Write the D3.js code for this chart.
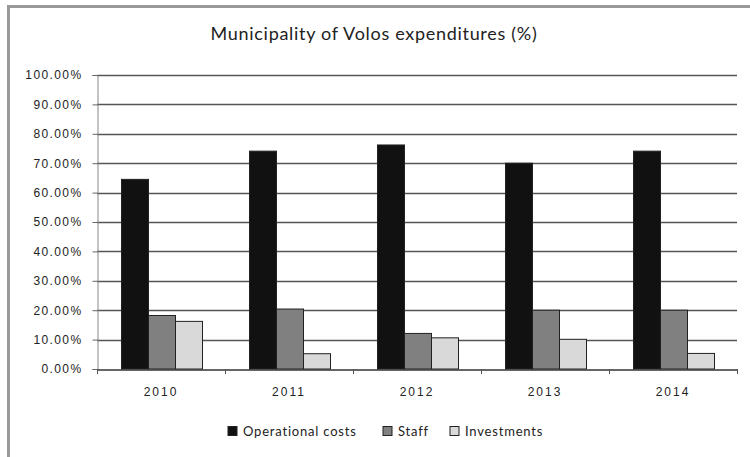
<!DOCTYPE html>
<html>
<head>
<meta charset="utf-8">
<script src="https://cdn.jsdelivr.net/npm/d3@7"></script>
<style>
  html, body { margin: 0; padding: 0; background: #fff; }
  svg { display: block; font-family: Lato, "Open Sans", sans-serif; }
</style>
</head>
<body>
<svg id="chart" width="750" height="457"></svg>
<script>
// Expenditure shares per year, as fractions of the total
const years = ["2010", "2011", "2012", "2013", "2014"];
const seriesNames = ["Operational costs", "Staff", "Investments"];
const operationalCosts = [0.645, 0.741, 0.762, 0.700, 0.741];
const staff = [0.182, 0.204, 0.121, 0.200, 0.200];
const investments = [0.162, 0.052, 0.106, 0.101, 0.053];
const yTicks = [0, 0.1, 0.2, 0.3, 0.4, 0.5, 0.6, 0.7, 0.8, 0.9, 1.0];
const seriesColors = ["#111111", "#808080", "#d9d9d9"];

const seriesValues = [operationalCosts, staff, investments];

const svg = d3.select("#chart");
const W = 750, H = 457;

svg.append("rect").attr("width", W).attr("height", H).attr("fill", "#fff");

// Outer chart frame (top and left edges)
svg.append("line").attr("x1", 7).attr("x2", W).attr("y1", 6.5).attr("y2", 6.5)
  .attr("stroke", "#999").attr("stroke-width", 3);
svg.append("line").attr("x1", 8.5).attr("x2", 8.5).attr("y1", 5).attr("y2", H)
  .attr("stroke", "#999").attr("stroke-width", 3);

const plot = { left: 97, right: 737, top: 75, bottom: 369 };

const x0 = d3.scaleBand().domain(years).range([plot.left, plot.right]).padding(0);
const x1 = d3.scaleBand().domain(seriesNames).range([24, 105]).padding(0);
const y = d3.scaleLinear().domain([0, 1]).range([plot.bottom, plot.top]);

// Horizontal gridlines
svg.append("g").selectAll("line").data(yTicks.filter(d => d > 0)).join("line")
  .attr("x1", plot.left).attr("x2", plot.right)
  .attr("y1", d => Math.round(y(d)) + 0.5).attr("y2", d => Math.round(y(d)) + 0.5)
  .attr("stroke", "#555").attr("stroke-width", 1.3);

// Y axis
const yAxis = d3.axisLeft(y).tickValues(yTicks).tickFormat(d3.format(".2%")).tickSize(5).tickPadding(10);
const gy = svg.append("g").attr("transform", `translate(${plot.left + 0.5},0)`).call(yAxis);
gy.select(".domain").attr("stroke", "#888");
gy.selectAll(".tick line").attr("stroke", "#666");
gy.selectAll("text").attr("font-size", 12).attr("letter-spacing", 1.4).attr("fill", "#222");

// Bars
const groups = svg.append("g").selectAll("g").data(years).join("g")
  .attr("transform", d => `translate(${x0(d)},0)`);
groups.selectAll("rect")
  .data((yr, i) => seriesNames.map((s, k) => ({ s, k, v: seriesValues[k][i] })))
  .join("rect")
  .attr("x", d => x1(d.s) + 0.5)
  .attr("width", x1.bandwidth())
  .attr("y", d => y(d.v))
  .attr("height", d => plot.bottom - y(d.v))
  .attr("fill", d => seriesColors[d.k])
  .attr("stroke", "#222").attr("stroke-width", 1);

// X axis baseline and category ticks
const xAxis = d3.axisBottom(x0).tickSize(0).tickPadding(18);
const gx = svg.append("g").attr("transform", `translate(0,${plot.bottom + 0.5})`).call(xAxis);
gx.select(".domain").attr("stroke", "#333").attr("stroke-width", 1.5);
gx.selectAll("text").attr("font-size", 12).attr("letter-spacing", 2).attr("fill", "#222");
svg.append("g").selectAll("line")
  .data(years.map(d => x0(d)).concat([plot.right]))
  .join("line")
  .attr("x1", d => d + 0.5).attr("x2", d => d + 0.5)
  .attr("y1", plot.bottom).attr("y2", plot.bottom + 5)
  .attr("stroke", "#555");

// Title
svg.append("text").attr("x", 374).attr("y", 40).attr("text-anchor", "middle")
  .attr("font-size", 18).attr("letter-spacing", 0.7).attr("fill", "#222")
  .text("Municipality of Volos expenditures (%)");

// Legend
const legendX = [228, 383, 450];
const legend = svg.append("g").selectAll("g").data(seriesNames).join("g")
  .attr("transform", (d, i) => `translate(${legendX[i]},431)`);
legend.append("rect").attr("x", 0).attr("y", -4.5).attr("width", 9).attr("height", 9)
  .attr("fill", (d, i) => seriesColors[i]).attr("stroke", "#222");
legend.append("text").attr("x", 15).attr("y", 4.5).attr("font-size", 13)
  .attr("letter-spacing", 0.8).attr("fill", "#222")
  .text(d => d);
</script>
</body>
</html>
